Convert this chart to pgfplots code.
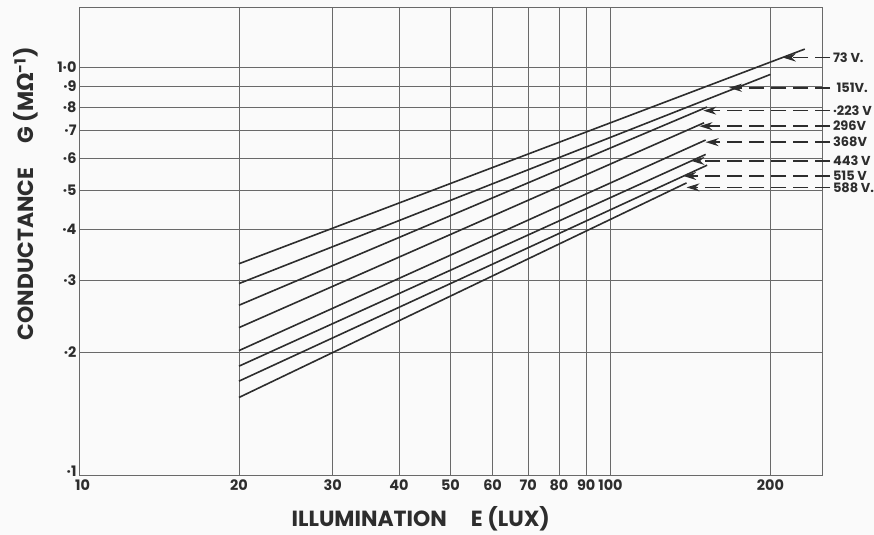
\documentclass[border=0pt]{standalone}
\usepackage{pgfplots}
\pgfplotsset{compat=1.18}
\usepackage{fontspec}
\setmainfont{Poppins}
\newfontfamily\symfont{DejaVu Sans}
\usetikzlibrary{arrows.meta}

\definecolor{paper}{RGB}{250,250,250}
\definecolor{ink}{RGB}{45,45,45}
\definecolor{gridc}{RGB}{105,105,105}

\begin{document}
\begin{tikzpicture}
\fill[paper] (-79bp,-60bp) rectangle (795bp,475bp);
\begin{axis}[
    scale only axis,
    width=743bp,
    height=467bp,
    xmode=log,
    ymode=log,
    xmin=10, xmax=250,
    ymin=0.1, ymax=1.4,
    xtick={10,20,30,40,50,60,70,80,90,100,200},
    xticklabels={\hspace*{7bp}10,20,30,40,50,60,70,80,90,100,200},
    ytick={0.1,0.2,0.3,0.4,0.5,0.6,0.7,0.8,0.9,1.0},
    yticklabels={\raisebox{7bp}{·1},·2,·3,·4,·5,·6,·7,·8,·9,1·0},
    xminorticks=false,
    yminorticks=false,
    major tick length=0pt,
    grid=major,
    major grid style={gridc, line width=0.8bp},
    axis line style={gridc, line width=1bp},
    ticklabel style={font=\bfseries\fontsize{14.5}{14.5}\selectfont, text=ink},
    xticklabel style={yshift=-1bp},
    yticklabel style={xshift=1bp},
    xlabel={ILLUMINATION\hspace{1.1em}E (LUX)},
    ylabel={CONDUCTANCE\hspace{1.1em}G (M{\symfont\bfseries Ω}\textsuperscript{-1})},
    label style={font=\bfseries\fontsize{22}{22}\selectfont, text=ink},
    xlabel style={at={(axis description cs:0.46,-0.094)}, anchor=center},
    ylabel style={at={(axis description cs:-0.072,0.602)}, anchor=center},
    clip=false,
    vline/.style={ink, line width=1.6bp, no markers, solid},
    ]
% conductance against illumination, one line per applied voltage
\addplot[vline] coordinates {(20,0.330) (232,1.11)};   % 73 V
\addplot[vline] coordinates {(20,0.295) (200,0.962)};  % 151 V
\addplot[vline] coordinates {(20,0.261) (152,0.800)};  % 223 V
\addplot[vline] coordinates {(20,0.230) (150,0.732)};  % 296 V
\addplot[vline] coordinates {(20,0.202) (151,0.664)};  % 368 V
\addplot[vline] coordinates {(20,0.185) (151,0.612)};  % 443 V
\addplot[vline] coordinates {(20,0.170) (152,0.576)};  % 515 V
\addplot[vline] coordinates {(20,0.155) (139,0.521)};  % 588 V

% voltage labels with dashed pointers
\begin{scope}[ink, line width=1.5bp, dash pattern=on 15bp off 7bp]
  \draw[-{Stealth[length=13bp,width=8bp]}] (axis cs:259,1.058) -- (axis cs:211,1.058);
  \draw[-{Stealth[length=13bp,width=8bp]}] (axis cs:259,0.892) -- (axis cs:167,0.892);
  \draw[-{Stealth[length=13bp,width=8bp]}] (axis cs:259,0.784) -- (axis cs:149.5,0.784);
  \draw[-{Stealth[length=13bp,width=8bp]}] (axis cs:259,0.718) -- (axis cs:147,0.718);
  \draw[-{Stealth[length=13bp,width=8bp]}] (axis cs:259,0.656) -- (axis cs:151,0.656);
  \draw[-{Stealth[length=13bp,width=8bp]}] (axis cs:259,0.590) -- (axis cs:142,0.590);
  \draw[-{Stealth[length=13bp,width=8bp]}] (axis cs:259,0.542) -- (axis cs:137,0.542);
  \draw[-{Stealth[length=13bp,width=8bp]}] (axis cs:259,0.508) -- (axis cs:139,0.508);
\end{scope}
\begin{scope}[every node/.style={anchor=west, inner sep=0pt, text=ink,
    font=\bfseries\fontsize{13}{13}\selectfont}]
  \node at (axis cs:262,1.058) {73 V.};
  \node at (axis cs:266,0.892) {151V.};
  \node at (axis cs:262,0.784) {·223 V};
  \node at (axis cs:262,0.718) {296V};
  \node at (axis cs:262,0.656) {368V};
  \node at (axis cs:262,0.590) {443 V};
  \node at (axis cs:262,0.542) {515 V};
  \node at (axis cs:262,0.508) {588 V.};
\end{scope}
\end{axis}
\pgfresetboundingbox
\useasboundingbox (-79bp,-60bp) rectangle (795bp,475bp);
\end{tikzpicture}
\end{document}
